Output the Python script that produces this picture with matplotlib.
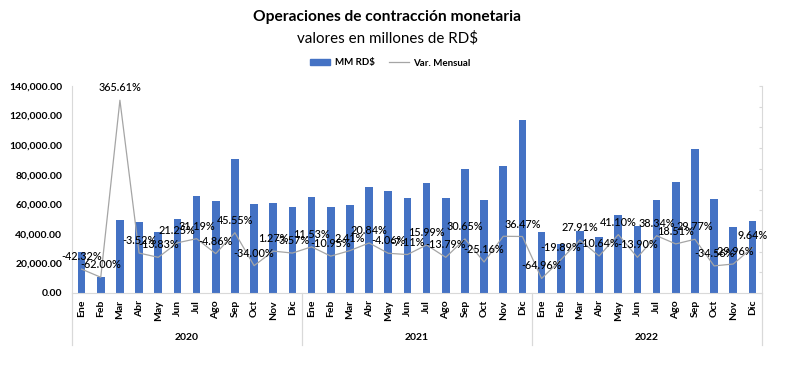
import matplotlib
matplotlib.use("Agg")
import matplotlib.pyplot as plt
from matplotlib.patches import Patch
from matplotlib.lines import Line2D
from matplotlib.ticker import FuncFormatter, MultipleLocator

plt.rcParams['font.family'] = ['Lato', 'DejaVu Sans']

# datos
meses = ['Ene', 'Feb', 'Mar', 'Abr', 'May', 'Jun', 'Jul', 'Ago', 'Sep', 'Oct', 'Nov', 'Dic']
anios = ['2020', '2021', '2022']
mm_rd = [28000, 10640, 49540, 47800, 41190, 49940, 65520, 62330, 90720, 59880, 60640, 58470,
         65210, 58070, 59470, 71860, 68940, 64040, 74280, 64040, 83660, 62610, 85800, 117090,
         41030, 32870, 42040, 37570, 53010, 45640, 63140, 74830, 97110, 63550, 44510, 48800]
var_mensual = [-42.32, -62.00, 365.61, -3.52, -13.83, 21.25, 31.19, -4.86, 45.55, -34.00, 1.27, -3.57,
               11.53, -10.95, 2.41, 20.84, -4.06, -7.11, 15.99, -13.79, 30.65, -25.16, 37.04, 36.47,
               -64.96, -19.89, 27.91, -10.64, 41.10, -13.90, 38.34, 18.51, 29.77, -34.56, -29.96, 9.64]
sin_etiqueta = {22}  # etiqueta tapada en el original

AZUL = '#4472C4'
GRIS = '#A5A5A5'
EJE = '#D9D9D9'

x = list(range(len(mm_rd)))
etiquetas_x = meses * len(anios)

fig = plt.figure(figsize=(7.86, 3.69), dpi=100)
ax = fig.add_axes([72 / 786, 1 - 293 / 369, 690 / 786, 207 / 369])
ax2 = ax.twinx()

ax.bar(x, mm_rd, width=0.4, color=AZUL, zorder=2)
ax.set_xlim(-0.5, len(x) - 0.5)
ax.set_ylim(0, 140000)
ax.yaxis.set_major_locator(MultipleLocator(20000))
ax.yaxis.set_major_formatter(FuncFormatter(lambda v, p: f'{v:,.2f}'))
ax.tick_params(axis='y', length=0, pad=7, labelsize=7.5)
for t in ax.get_yticklabels():
    t.set_fontweight('bold')
ax.set_xticks(x)
ax.set_xticklabels(etiquetas_x, rotation=90, fontsize=7.5, fontweight='bold')
ax.tick_params(axis='x', length=0, pad=5)

for s in ['top', 'right']:
    ax.spines[s].set_visible(False)
ax.spines['left'].set_color(EJE)
ax.spines['bottom'].set_color(EJE)

# linea de variacion en eje secundario
ax2.plot(x, var_mensual, color=GRIS, lw=0.9, zorder=3)
ax2.set_ylim(-100, 400)
ax2.yaxis.set_major_locator(MultipleLocator(50))
ax2.tick_params(axis='y', direction='in', length=2.5, color=EJE, labelright=False)
for s in ['top', 'left', 'bottom']:
    ax2.spines[s].set_visible(False)
ax2.spines['right'].set_color(EJE)

for i, v in enumerate(var_mensual):
    if i in sin_etiqueta:
        continue
    ax2.annotate(f'{v:.2f}%', (i, v), xytext=(0, 9), textcoords='offset points',
                 ha='center', va='center', fontsize=7.8, fontweight='medium', color='black', zorder=4)

# separadores y etiquetas de anio
trans = ax.get_xaxis_transform()
for k in range(len(anios) + 1):
    ax.plot([k * 12 - 0.5] * 2, [0, -0.25], transform=trans, color=EJE, lw=0.9, clip_on=False)
for k, a in enumerate(anios):
    ax.text(k * 12 + 5.5, -0.215, a, transform=trans, ha='center', va='center',
            fontsize=7.5, fontweight='bold')

fig.text(0.493, 1 - 17 / 369, 'Operaciones de contracción monetaria', ha='center', va='center',
         fontsize=11.2, fontweight='bold')
fig.text(0.493, 1 - 38 / 369, 'valores en millones de RD$', ha='center', va='center', fontsize=10.9)

handles = [Patch(color=AZUL), Line2D([], [], color=GRIS, lw=0.9)]
leg = fig.legend(handles, ['MM RD$', 'Var. Mensual'], loc='center', bbox_to_anchor=(0.497, 1 - 63 / 369),
                 ncol=2, frameon=False, handlelength=2.0, handleheight=0.5, columnspacing=1.5,
                 handletextpad=0.5, prop={'size': 7, 'weight': 'bold'})

fig.savefig('out.png', dpi=100)
